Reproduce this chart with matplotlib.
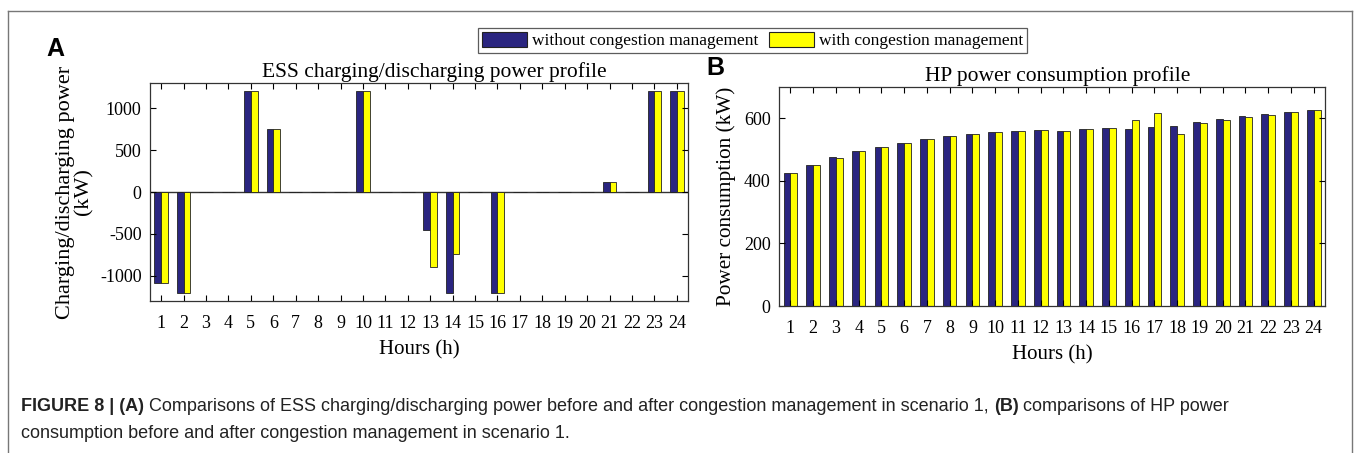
import numpy as np
import matplotlib.pyplot as plt
from matplotlib.lines import Line2D
from matplotlib.patches import Patch

plt.rcParams['axes.unicode_minus'] = False

# Hours 1..24
hours = np.arange(1, 25)

# ESS charging/discharging power (kW)
ess_without = [-1080, -1200, 0, 0, 1200, 755, 0, 0, 0, 1200, 0, 0,
               -450, -1200, 0, -1200, 0, 0, 0, 0, 125, 0, 1200, 1200]
ess_with = [-1080, -1200, 0, 0, 1200, 755, 0, 0, 0, 1200, 0, 0,
            -900, -745, 0, -1200, 0, 0, 0, 0, 125, 0, 1200, 1200]

# HP power consumption (kW)
hp_without = [426, 450, 475, 495, 508, 521, 534, 545, 550, 555, 561, 562,
              561, 567, 568, 567, 573, 576, 587, 598, 606, 613, 621, 628]
hp_with = [426, 450, 474, 495, 508, 520, 533, 544, 550, 555, 560, 562,
           561, 567, 568, 594, 617, 550, 584, 596, 604, 612, 619, 625]

navy = '#2a2580'
yellow = '#ffff00'
serif = 'Liberation Serif'
sans = 'Liberation Sans'
w = 0.3

fig = plt.figure(figsize=(13.56, 4.53), dpi=100)

axA = fig.add_axes([0.1106, 0.3355, 0.3968, 0.4812])
axB = fig.add_axes([0.5745, 0.3245, 0.4027, 0.4834])


def style(ax):
    ax.set_xlim(0.5, 24.5)
    ax.set_xticks(hours)
    ax.tick_params(direction='in', top=True, right=True, length=4,
                   labelsize=13, width=0.8, pad=6)
    ax.tick_params(axis='x', pad=10)
    for lbl in ax.get_xticklabels() + ax.get_yticklabels():
        lbl.set_family(serif)
    for s in ax.spines.values():
        s.set_linewidth(0.9)
        s.set_color('#333333')
    ax.set_xlabel('Hours (h)', family=serif, fontsize=15, labelpad=6)


axA.bar(hours - w / 2, ess_without, w, color=navy, edgecolor='#222222', linewidth=0.6)
axA.bar(hours + w / 2, ess_with, w, color=yellow, edgecolor='#222222', linewidth=0.6)
axA.axhline(0, color='#333333', lw=1.0, zorder=0.5)
axA.set_ylim(-1300, 1300)
axA.set_yticks([-1000, -500, 0, 500, 1000])
style(axA)
axA.set_title('ESS charging/discharging power profile', family=serif, fontsize=15.5,
              pad=4, x=0.528)
axA.set_ylabel('Charging/discharging power\n(kW)', family=serif, fontsize=16,
               labelpad=5, linespacing=0.95)

axB.bar(hours - w / 2, hp_without, w, color=navy, edgecolor='#222222', linewidth=0.6)
axB.bar(hours + w / 2, hp_with, w, color=yellow, edgecolor='#222222', linewidth=0.6)
axB.set_ylim(0, 700)
axB.set_yticks([0, 200, 400, 600])
style(axB)
axB.set_title('HP power consumption profile', family=serif, fontsize=15.5, pad=4, x=0.511)
axB.set_ylabel('Power consumption (kW)', family=serif, fontsize=15.3, labelpad=6)

# legend
handles = [Patch(facecolor=navy, edgecolor='#222222', lw=0.8),
           Patch(facecolor=yellow, edgecolor='#222222', lw=0.8)]
leg = fig.legend(handles, ['without congestion management', 'with congestion management'],
                 loc='center', bbox_to_anchor=(0.555, 0.9106), ncol=2,
                 prop={'family': serif, 'size': 12.5}, frameon=True, fancybox=False,
                 handlelength=2.6, handleheight=1.0, handletextpad=0.3,
                 columnspacing=0.6, borderpad=0.2, borderaxespad=0)
leg.get_frame().set_edgecolor('#333333')
leg.get_frame().set_linewidth(0.9)

# panel letters
fig.text(0.034, 0.892, 'A', family=sans, weight='bold', fontsize=18, va='center')
fig.text(0.521, 0.849, 'B', family=sans, weight='bold', fontsize=18, va='center')

# outer frame
fc = '#777777'
fig.add_artist(Line2D([0.006, 0.006], [0.0, 0.976], color=fc, lw=1.0))
fig.add_artist(Line2D([0.006, 0.997], [0.976, 0.976], color=fc, lw=1.0))
fig.add_artist(Line2D([0.997, 0.997], [0.0, 0.976], color=fc, lw=1.0))

# caption, bold pieces placed one after another on the same baseline
cap = dict(family=sans, fontsize=13, color='#222222', va='baseline')
pieces = [('FIGURE 8 | (A)', 'bold'),
          (' Comparisons of ESS charging/discharging power before and after '
           'congestion management in scenario 1, ', 'normal'),
          ('(B)', 'bold'),
          (' comparisons of HP power', 'normal')]
renderer = fig.canvas.get_renderer()
x = 0.0155
for txt, wt in pieces:
    t = fig.text(x, 0.093, txt, weight=wt, **cap)
    bb = t.get_window_extent(renderer)
    x = fig.transFigure.inverted().transform((bb.x1, 0))[0]
fig.text(0.0155, 0.033, 'consumption before and after congestion management in scenario 1.', **cap)

fig.savefig('out.png', dpi=100)
